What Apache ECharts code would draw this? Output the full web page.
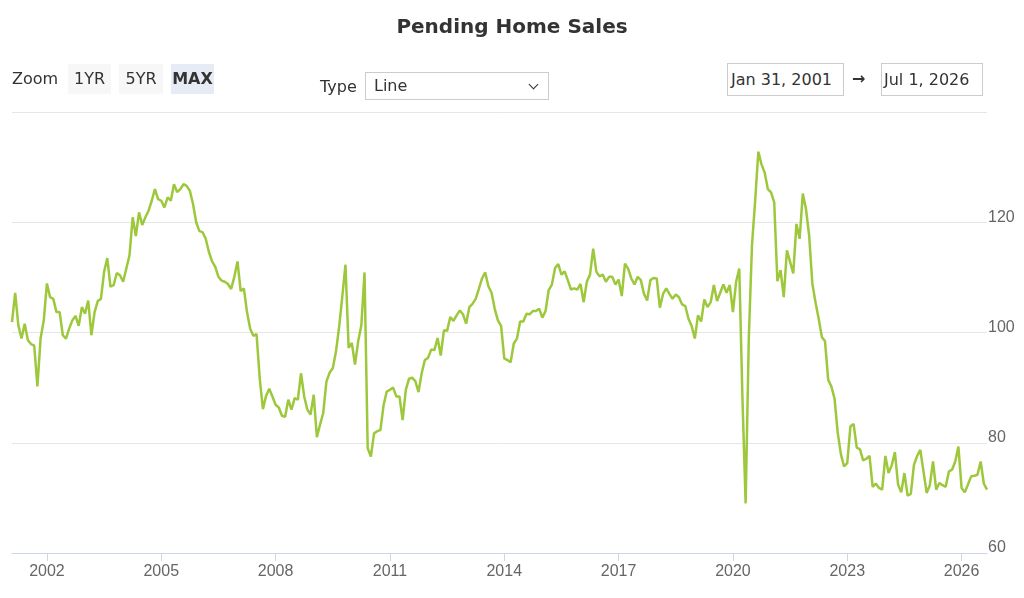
<!DOCTYPE html>
<html>
<head>
<meta charset="utf-8">
<script src="https://cdn.jsdelivr.net/npm/echarts@6/dist/echarts.min.js"></script>
<style>
  html, body { margin: 0; padding: 0; background: #fff; }
  #wrap { position: relative; width: 1024px; height: 598px; overflow: hidden; font-family: "DejaVu Sans", "Liberation Sans", sans-serif; color: #333; }
  #chart { position: absolute; left: 0; top: 0; width: 1024px; height: 598px; }
  .ui { position: absolute; font-size: 16px; line-height: 1; white-space: nowrap; }
  .btn { position: absolute; top: 64px; height: 30px; line-height: 30px; text-align: center; background: #f7f7f7; font-size: 16px; color: #333; }
  .btn.sel { background: #e6ebf5; font-weight: bold; }
  .box { position: absolute; border: 1px solid #cccccc; box-sizing: border-box; font-size: 16px; color: #333; background: #fff; white-space: nowrap; }
  .chev { position: absolute; width: 6px; height: 6px; border-right: 1.5px solid #333; border-bottom: 1.5px solid #333; transform: rotate(45deg); }
</style>
</head>
<body>
<div id="wrap">
  <div id="chart"></div>
  <div class="ui" style="left:12px; top:71px;">Zoom</div>
  <div class="btn" style="left:68px; width:43px;">1YR</div>
  <div class="btn" style="left:119px; width:44px;">5YR</div>
  <div class="btn sel" style="left:171px; width:43px;">MAX</div>
  <div class="ui" style="left:320px; top:79px;">Type</div>
  <div class="box" style="left:365px; top:72px; width:184px; height:28px; line-height:26px; padding-left:8px;">Line</div>
  <div class="chev" style="left:530px; top:81px;"></div>
  <div class="box" style="left:727px; top:63px; width:117px; height:33px; line-height:31px; padding-left:3px;">Jan 31, 2001</div>
  <div class="ui" style="left:852px; top:71px; font-weight:bold;">&rarr;</div>
  <div class="box" style="left:881px; top:63px; width:102px; height:33px; line-height:31px; padding-left:2px;">Jul 1, 2026</div>
</div>
<script>
// ---- data ----
// monthly observations; first value is dated Jan 31, 2001 (plotted at the start of Feb 2001)
const startYear = 2001;
const startMonth = 2;   // 1-based month of the first plotted position
const values = [
  101.9,107.2,101.3,98.9,101.6,98.6,97.9,97.6,90.2,98.9,102.2,108.9,
  106.4,106.1,103.7,103.7,99.5,98.9,100.7,102.2,103.0,101.2,104.6,103.4,
  105.8,99.5,103.7,105.7,106.1,111.0,113.5,108.3,108.6,110.8,110.4,109.2,
  111.6,114.0,120.9,117.5,121.8,119.5,120.9,122.1,123.9,126.0,124.2,123.9,
  122.7,124.5,123.9,126.9,125.5,126.0,126.9,126.6,125.7,123.3,120.0,118.4,
  118.2,117.0,114.6,112.9,111.9,110.1,109.4,109.2,108.8,107.9,110.1,112.9,
  107.5,108.0,103.7,100.7,99.4,99.7,91.7,86.1,88.5,89.8,88.4,86.9,
  86.4,84.9,84.7,87.8,86.0,88.1,87.8,92.6,88.4,86.0,85.1,88.7,
  81.0,83.3,85.4,91.1,92.7,93.5,96.5,101.0,106.5,112.3,97.2,98.1,
  94.2,98.4,101.3,110.9,79.0,77.5,81.7,82.1,82.3,86.8,89.3,89.6,
  90.0,88.4,88.4,84.1,89.6,91.6,91.8,91.2,89.2,92.6,95.0,95.4,
  96.9,96.8,99.0,95.8,100.4,100.3,102.8,102.1,103.1,104.0,103.3,101.6,
  104.6,105.2,106.1,107.9,109.8,110.9,108.4,107.2,104.3,102.2,101.2,95.3,
  95.0,94.6,98.0,98.9,102.0,102.0,103.4,103.3,103.9,103.9,104.3,102.7,
  103.9,107.7,108.7,111.7,112.4,110.5,111.1,109.5,107.8,108.0,107.8,108.8,
  105.5,109.2,110.5,115.2,111.0,110.2,110.5,109.2,110.1,110.1,108.7,109.6,
  106.6,112.5,111.6,109.8,108.7,110.1,109.5,107.0,105.8,109.5,109.9,109.8,
  104.5,107.0,108.0,107.0,106.1,106.9,106.4,105.1,104.8,102.5,101.2,98.9,
  103.1,102.0,106.0,104.6,105.5,108.6,105.7,107.2,108.7,107.2,108.6,103.7,
  109.2,111.6,88.0,69.0,99.0,115.8,123.9,132.8,130.5,129.0,126.0,125.4,
  123.6,109.3,111.3,106.4,114.9,112.8,110.7,119.7,117.0,125.2,122.4,117.6,
  108.9,105.5,102.5,99.2,98.4,91.4,90.2,88.0,81.8,77.9,75.7,76.3,
  83.0,83.4,79.1,78.8,76.8,77.1,77.6,72.0,72.6,71.8,71.5,77.6,
  74.5,75.9,78.3,72.4,71.0,74.5,70.4,70.7,76.0,77.6,78.7,74.8,
  70.9,72.3,76.6,71.5,72.7,72.3,72.0,74.8,75.1,76.6,79.3,71.8,
  71.0,72.4,73.9,74.0,74.2,76.6,72.6,71.5
];
const tickYears = [2002, 2005, 2008, 2011, 2014, 2017, 2020, 2023, 2026];
const yTicks = [60, 80, 100, 120, 140];

// ---- build ----
const categories = values.map(function (v, i) {
  const m0 = (startMonth - 1) + i;
  const y = startYear + Math.floor(m0 / 12);
  const m = (m0 % 12) + 1;
  return y + '-' + (m < 10 ? '0' + m : '' + m);
});
function isYearTick(value) {
  const parts = String(value).split('-');
  return parts[1] === '01' && tickYears.indexOf(parseInt(parts[0], 10)) >= 0;
}
function tickInterval(index, value) { return isYearTick(value); }

const FONT = 'DejaVu Sans';
const AXIS_FONT = 'Liberation Sans';
const chart = echarts.init(document.getElementById('chart'), null, { renderer: 'canvas' });
chart.setOption({
  animation: false,
  backgroundColor: '#ffffff',
  textStyle: { fontFamily: FONT },
  title: {
    text: 'Pending Home Sales',
    left: 'center',
    top: 13,
    textStyle: { fontFamily: FONT, fontSize: 20, fontWeight: 'bold', color: '#333333' }
  },
  grid: { left: 12, right: 37, top: 112, bottom: 45, containLabel: false },
  xAxis: {
    type: 'category',
    data: categories,
    boundaryGap: false,
    axisLine: { show: true, lineStyle: { color: '#ccd6eb', width: 1 } },
    axisTick: { show: true, length: 8, interval: tickInterval, lineStyle: { color: '#ccd6eb' } },
    axisLabel: {
      interval: tickInterval,
      formatter: function (v) { return String(v).split('-')[0]; },
      color: '#666666', fontSize: 16, fontFamily: AXIS_FONT, margin: 11
    },
    splitLine: { show: false }
  },
  yAxis: {
    type: 'value',
    position: 'right',
    min: yTicks[0],
    max: yTicks[yTicks.length - 1],
    interval: 20,
    axisLine: { show: false },
    axisTick: { show: false },
    splitLine: { show: true, lineStyle: { color: '#e6e6e6', width: 1 } },
    axisLabel: {
      showMaxLabel: false,
      align: 'left',
      verticalAlign: 'bottom',
      lineHeight: 10,
      margin: 1,
      color: '#666666', fontSize: 16, fontFamily: AXIS_FONT
    }
  },
  series: [{
    type: 'line',
    name: 'Pending Home Sales',
    data: values,
    showSymbol: false,
    symbol: 'none',
    lineStyle: { color: '#9dc83c', width: 2.5 },
    itemStyle: { color: '#9dc83c' }
  }]
});
</script>
</body>
</html>
